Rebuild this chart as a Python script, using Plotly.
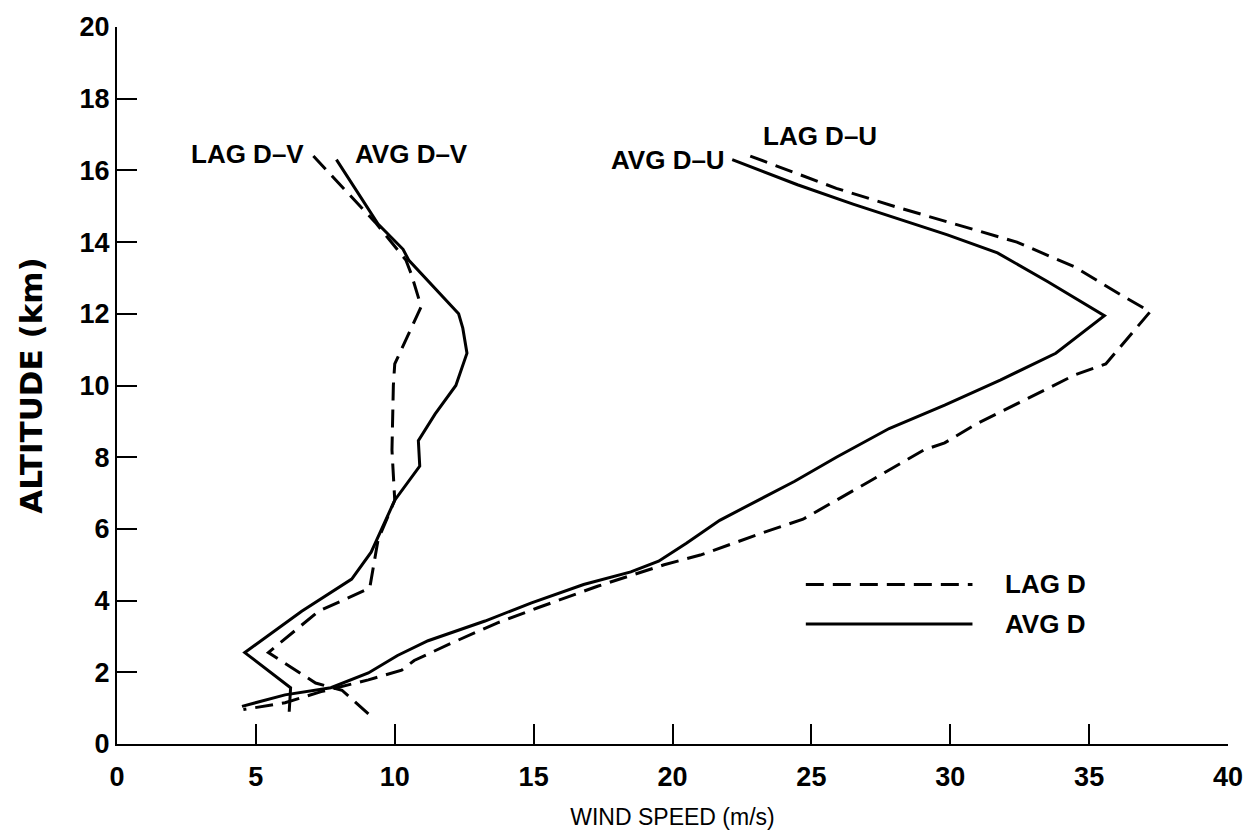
import plotly.graph_objects as go

# AVG D-V (solid)
avg_v_alt = [16.3, 14.5, 13.8, 13.5, 12.0, 11.6, 10.9, 10.0, 9.2, 8.46, 7.75, 6.8, 5.35, 4.6, 3.7, 2.55, 1.57, 0.9]
avg_v_spd = [7.9, 9.4, 10.3, 10.5, 12.3, 12.45, 12.6, 12.2, 11.45, 10.85, 10.9, 10.0, 9.15, 8.45, 6.65, 4.6, 6.25, 6.2]

# LAG D-V (dashed)
lag_v_alt = [16.4, 14.55, 13.5, 13.1, 12.2, 10.6, 10.0, 8.2, 6.8, 5.7, 4.35, 3.7, 2.55, 1.7, 1.5, 0.77]
lag_v_spd = [7.07, 9.3, 10.4, 10.6, 10.95, 10.0, 9.95, 9.9, 10.0, 9.4, 9.1, 7.25, 5.45, 7.15, 8.1, 9.15]

# AVG D-U (solid)
avg_u_alt = [16.3, 15.6, 15.06, 14.65, 14.2, 13.7, 12.9, 11.95, 10.9, 10.15, 9.45, 8.8, 8.0, 7.33, 6.24,
             5.6, 5.1, 4.8, 4.45, 3.93, 3.43, 2.88, 2.47, 1.98, 1.57, 1.37, 1.05]
avg_u_spd = [22.15, 24.5, 26.5, 28.1, 29.9, 31.7, 33.5, 35.55, 33.8, 31.8, 29.8, 27.8, 25.9, 24.4, 21.7,
             20.5, 19.5, 18.5, 16.8, 14.9, 13.25, 11.2, 10.1, 9.05, 7.7, 6.05, 4.5]

# LAG D-U (dashed)
lag_u_alt = [16.4, 15.5, 14.97, 14.5, 14.0, 13.3, 12.5, 12.06, 10.6, 10.3, 9.5, 8.93, 8.4, 8.2, 7.33, 6.27,
             5.96, 5.63, 5.27, 5.0, 4.75, 4.4, 3.8, 3.38, 2.8, 2.33, 2.06, 1.79, 1.46, 1.15, 0.96]
lag_u_spd = [22.8, 25.9, 28.1, 30.2, 32.4, 34.5, 36.2, 37.2, 35.6, 34.5, 32.4, 30.95, 29.8, 29.05, 27.1, 24.7,
             23.5, 22.3, 21.0, 19.7, 18.7, 17.3, 15.15, 13.7, 12.0, 10.7, 10.25, 9.05, 7.35, 6.05, 4.55]

x_ticks = [0, 5, 10, 15, 20, 25, 30, 35, 40]
y_ticks = [0, 2, 4, 6, 8, 10, 12, 14, 16, 18, 20]

# curve labels: text, x, y, anchor
curve_labels = [
    ("LAG D\u2013V", 6.8, 16.45, "right"),
    ("AVG D\u2013V", 8.5, 16.45, "left"),
    ("AVG D\u2013U", 21.95, 16.3, "right"),
    ("LAG D\u2013U", 23.2, 16.95, "left"),
]

# legend entries: text, y, dash
legend_items = [("LAG D", 4.45, "18px,9px"), ("AVG D", 3.35, "solid")]
legend_x = [24.8, 30.8]
legend_text_x = 31.9

FONT = "Liberation Sans, Arial, sans-serif"
DASH = "18px,9px"
LBL = dict(family=FONT, size=26, color="black", weight="bold")

fig = go.Figure()
for xs, ys, dash in [(avg_v_spd, avg_v_alt, "solid"), (lag_v_spd, lag_v_alt, DASH),
                     (avg_u_spd, avg_u_alt, "solid"), (lag_u_spd, lag_u_alt, DASH)]:
    fig.add_trace(go.Scatter(x=xs, y=ys, mode="lines", showlegend=False,
                             line=dict(color="black", width=3, dash=dash)))

for text, y, dash in legend_items:
    fig.add_trace(go.Scatter(x=legend_x, y=[y, y], mode="lines", showlegend=False,
                             line=dict(color="black", width=3, dash=dash)))
    fig.add_annotation(x=legend_text_x, y=y, text=text, showarrow=False, xanchor="left",
                       yanchor="middle", font=LBL)

for text, x, y, anchor in curve_labels:
    fig.add_annotation(x=x, y=y, text=text, showarrow=False, xanchor=anchor,
                       yanchor="middle", font=LBL)

fig.update_layout(
    width=1255, height=838,
    margin=dict(l=117, r=23, t=16, b=93),
    paper_bgcolor="white", plot_bgcolor="white",
    font=dict(family=FONT, color="black"),
)
fig.update_xaxes(range=[0, 40], tickvals=x_ticks, ticktext=[str(v) for v in x_ticks],
                 showgrid=False, zeroline=False, showline=True, linecolor="black", linewidth=2,
                 ticks="inside", ticklen=20, tickwidth=2, tickcolor="black",
                 ticklabelstandoff=8,
                 tickfont=dict(family=FONT, size=27, color="black", weight="bold"),
                 title=dict(text="WIND SPEED (m/s)", font=dict(family=FONT, size=23, color="black"),
                            standoff=17))
fig.update_yaxes(range=[0, 20], tickvals=y_ticks, ticktext=[str(v) for v in y_ticks],
                 showgrid=False, zeroline=False, showline=True, linecolor="black", linewidth=2,
                 ticks="inside", ticklen=20, tickwidth=2, tickcolor="black",
                 tickfont=dict(family=FONT, size=27, color="black", weight="bold"),
                 title=dict(text="ALTITUDE (km)",
                            font=dict(family="DejaVu Sans, sans-serif", size=31, color="black", weight="bold"),
                            standoff=28))

fig.write_html("out.html")
